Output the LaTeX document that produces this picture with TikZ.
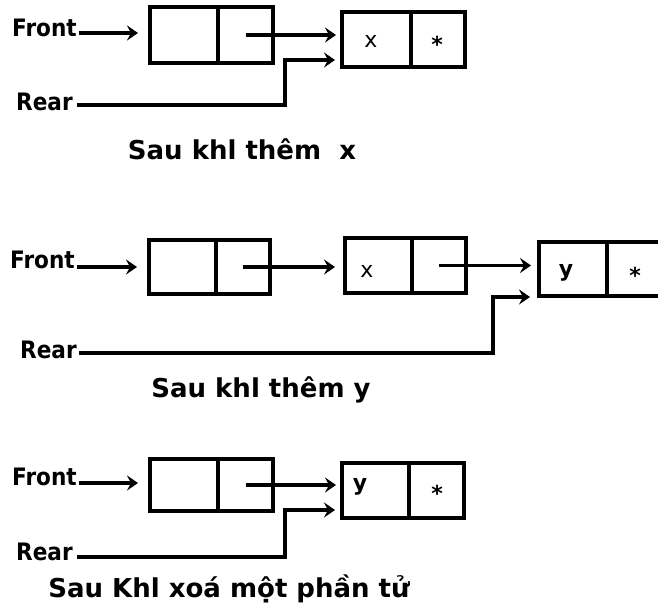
\documentclass[tikz,border=0pt]{standalone}
\usepackage{fontspec}
\setmainfont{DejaVu Sans}
\usetikzlibrary{arrows.meta}
\tikzset{
  cell/.style={draw, line width=4pt, inner sep=0pt},
  lbl/.style={font=\bfseries\fontsize{24}{26}\selectfont, inner sep=0pt, anchor=base west},
  val/.style={font=\fontsize{22}{24}\selectfont, inner sep=0pt, anchor=base},
  valb/.style={font=\bfseries\fontsize{22}{24}\selectfont, inner sep=0pt, anchor=base},
  captxt/.style={font=\bfseries\fontsize{26}{30}\selectfont, inner sep=0pt, anchor=base},
  arr/.style={line width=3.5pt, -{Stealth[length=11pt,width=15pt,inset=4pt]}},
}
\newcommand{\nar}[1]{\scalebox{0.9}[1]{#1}}
\begin{document}
\begin{tikzpicture}[x=1pt, y=-1pt]
\useasboundingbox (0,0) rectangle (658,614);
\clip (0,0) rectangle (658,614);

% ---------- Panel 1 ----------
\node[cell, minimum width=68pt, minimum height=56pt] (p1a) at (184,35) {};
\node[cell, minimum width=55pt, minimum height=56pt] (p1b) at (245.5,35) {};
\node[cell, minimum width=69pt, minimum height=55pt] (p1c) at (376.5,39.5) {};
\node[cell, minimum width=54pt, minimum height=55pt] (p1d) at (438,39.5) {};
\node[val] (p1x) at (371,47) {x};
\node[valb] (p1s) at (437,52) {*};
\node[lbl] (f1) at (12,36) {\nar{Front}};
\node[lbl] (r1) at (16,110) {\nar{Rear}};
\node[captxt] (c1) at (242,159) {Sau khl thêm\ \ x};
\coordinate (f1s) at ([xshift=2pt,yshift=3pt]f1.base east);
\coordinate (r1s) at ([xshift=4pt,yshift=5pt]r1.base east);
\coordinate (k1) at (285,60);
\draw[arr, shorten >=10pt] (f1s) -- (f1s -| p1a.west);
\draw[arr, shorten >=4pt] (p1b.center) -- (p1b.center -| p1c.west);
\draw[arr, shorten >=5pt] (r1s) -| (k1) -- (k1 -| p1c.west);

% ---------- Panel 2 ----------
\node[cell, minimum width=67pt, minimum height=54pt] (p2a) at (182.5,267) {};
\node[cell, minimum width=54pt, minimum height=54pt] (p2b) at (243,267) {};
\node[cell, minimum width=67pt, minimum height=55pt] (p2c) at (378.5,265.5) {};
\node[cell, minimum width=54pt, minimum height=55pt] (p2d) at (439,265.5) {};
\node[cell, minimum width=68pt, minimum height=54pt] (p2e) at (573,269) {};
\node[cell, minimum width=63pt, minimum height=54pt] (p2f) at (638.5,269) {};
\node[val] (p2x) at (367,277) {x};
\node[valb] (p2y) at (566,276) {y};
\node[valb] (p2s) at (635,283) {*};
\node[lbl] (f2) at (10,268) {\nar{Front}};
\node[lbl] (r2) at (20,358) {\nar{Rear}};
\node[captxt] (c2) at (261,397) {Sau khl thêm y};
\coordinate (f2s) at ([xshift=2pt,yshift=1pt]f2.base east);
\coordinate (r2s) at ([xshift=2pt,yshift=5pt]r2.base east);
\coordinate (k2) at (493,297);
\draw[arr, shorten >=10pt] (f2s) -- (f2s -| p2a.west);
\draw[arr, shorten >=8pt] (p2b.center) -- (p2b.center -| p2c.west);
\draw[arr, shorten >=6pt] (p2d.center) -- (p2d.center -| p2e.west);
\draw[arr, shorten >=7pt] (r2s) -| (k2) -- (k2 -| p2e.west);

% ---------- Panel 3 ----------
\node[cell, minimum width=68pt, minimum height=52pt] (p3a) at (184,485) {};
\node[cell, minimum width=55pt, minimum height=52pt] (p3b) at (245.5,485) {};
\node[cell, minimum width=67pt, minimum height=55pt] (p3c) at (375.5,490.5) {};
\node[cell, minimum width=55pt, minimum height=55pt] (p3d) at (436.5,490.5) {};
\node[valb] (p3y) at (360,490) {y};
\node[valb] (p3s) at (437,501) {*};
\node[lbl] (f3) at (12,485) {\nar{Front}};
\node[lbl] (r3) at (16,560) {\nar{Rear}};
\node[captxt] (c3) at (229,597) {Sau Khl xoá một phần tử};
\coordinate (f3s) at ([xshift=2pt,yshift=2pt]f3.base east);
\coordinate (r3s) at ([xshift=4pt,yshift=3pt]r3.base east);
\coordinate (k3) at (285,510);
\draw[arr, shorten >=10pt] (f3s) -- (f3s -| p3a.west);
\draw[arr, shorten >=4pt] (p3b.center) -- (p3b.center -| p3c.west);
\draw[arr, shorten >=5pt] (r3s) -| (k3) -- (k3 -| p3c.west);
\end{tikzpicture}
\end{document}
